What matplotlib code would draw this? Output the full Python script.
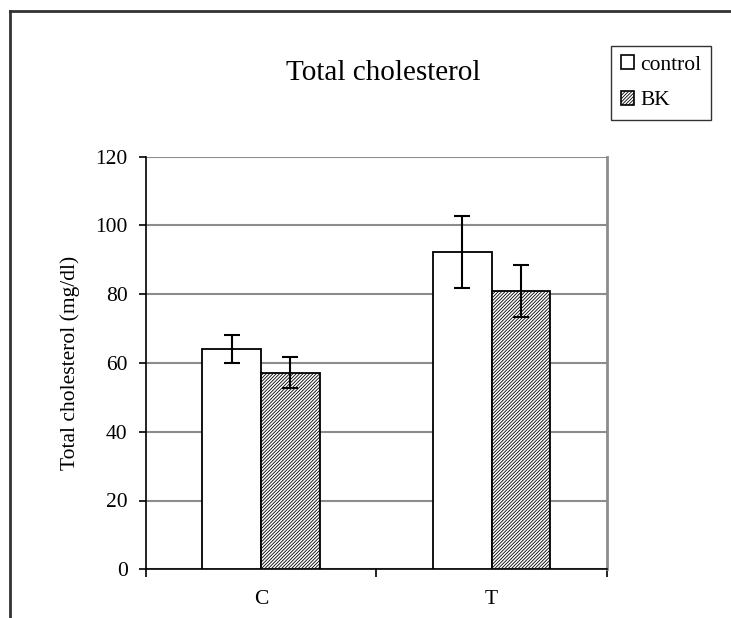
import numpy as np
import matplotlib.pyplot as plt
from matplotlib.lines import Line2D
from matplotlib.patches import Patch

plt.rcParams['font.family'] = ['Liberation Serif', 'DejaVu Serif']
plt.rcParams['hatch.linewidth'] = 0.6
plt.rcParams['hatch.color'] = '#333333'

# ----------------------------------------------------------------
groups = ['C', 'T']
series = ['control', 'BK']
control_mean = [64.0, 92.3]
control_err = [4.0, 10.4]
bk_mean = [57.2, 80.9]
bk_err = [4.5, 7.6]
yticks = [0, 20, 40, 60, 80, 100, 120]
# ----------------------------------------------------------------

W, H = 731, 618
HATCH = '//////////'
fig = plt.figure(figsize=(W / 100, H / 100), dpi=100)
ax = fig.add_axes([145.7 / W, 1 - 569.3 / H, (607 - 145.7) / W, (569.3 - 156.5) / H])

x = np.arange(len(groups))
bw = 0.254
ax.bar(x - bw / 2, control_mean, bw, color='white', edgecolor='black', linewidth=1.3, zorder=3)
ax.bar(x + bw / 2, bk_mean, bw, color='white', edgecolor='black', hatch=HATCH,
       linewidth=1.3, zorder=3)
ax.errorbar(x - bw / 2, control_mean, yerr=control_err, fmt='none', ecolor='black',
            elinewidth=1.5, capsize=5.5, capthick=1.5, zorder=4)
ax.errorbar(x + bw / 2, bk_mean, yerr=bk_err, fmt='none', ecolor='black',
            elinewidth=1.5, capsize=5.5, capthick=1.5, zorder=4)

ax.set_xlim(-0.5, len(groups) - 0.5)
ax.set_ylim(0, 120)
ax.set_yticks(yticks)
ax.yaxis.grid(True, color='#8c8c8c', linewidth=1.5, zorder=0)
ax.tick_params(axis='y', labelsize=15.5, direction='out', length=5, width=1.2, pad=8)

# category ticks at boundaries, labels at centres
ax.set_xticks(np.arange(len(groups) + 1) - 0.5)
ax.set_xticklabels([])
ax.set_xticks(x, minor=True)
ax.set_xticklabels(groups, minor=True, fontsize=15.5)
ax.tick_params(axis='x', which='major', direction='out', length=6, width=1.2)
ax.tick_params(axis='x', which='minor', length=0, pad=15)

ax.spines['top'].set_visible(False)
ax.spines['right'].set_color('#8c8c8c')
ax.spines['right'].set_linewidth(2)
ax.spines['left'].set_linewidth(1.2)
ax.spines['bottom'].set_linewidth(1.2)

ax.set_ylabel('Total cholesterol (mg/dl)', fontsize=15.5, labelpad=11)

fig.text(383 / W, 1 - 73 / H, 'Total cholesterol', fontsize=21, ha='center', va='center')

handles = [Patch(facecolor='white', edgecolor='black', linewidth=1.2),
           Patch(facecolor='white', edgecolor='black', hatch=HATCH, linewidth=1.2)]
leg = fig.legend(handles, series, loc='upper left', bbox_to_anchor=(611 / W, 1 - 45.7 / H),
                 fontsize=15.5, frameon=True, fancybox=False, edgecolor='black',
                 handlelength=0.6, handleheight=0.6, handletextpad=0.3,
                 borderpad=0.45, labelspacing=0.75, borderaxespad=0)
leg.get_frame().set_linewidth(1.0)

# outer frame lines
fig.add_artist(Line2D([9.7 / W, 1], [1 - 11 / H, 1 - 11 / H], color='#333333', linewidth=2))
fig.add_artist(Line2D([9.7 / W, 9.7 / W], [0, 1 - 11 / H], color='#333333', linewidth=2))

fig.savefig('out.png', dpi=100)
